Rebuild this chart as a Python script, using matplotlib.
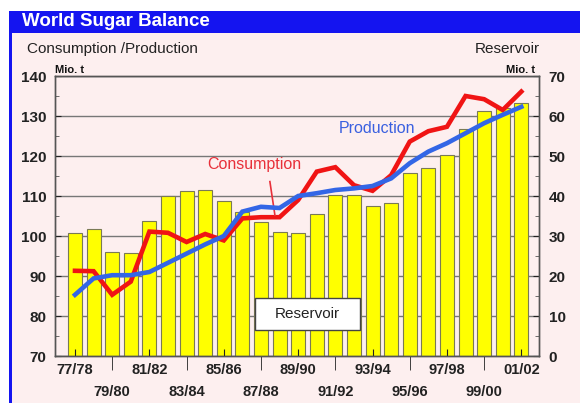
import matplotlib
matplotlib.use('Agg')
import matplotlib.pyplot as plt
from matplotlib.patches import Rectangle
import numpy as np

plt.rcParams['font.family'] = ['Liberation Sans', 'DejaVu Sans']

seasons = ['77/78', '78/79', '79/80', '80/81', '81/82', '82/83', '83/84', '84/85',
           '85/86', '86/87', '87/88', '88/89', '89/90', '90/91', '91/92', '92/93',
           '93/94', '94/95', '95/96', '96/97', '97/98', '98/99', '99/00', '00/01', '01/02']
consumption = [91.3, 91.2, 85.3, 88.6, 101.1, 100.8, 98.5, 100.5, 98.9, 104.4, 104.7, 104.7,
               109.0, 116.1, 117.2, 112.7, 111.3, 115.2, 123.6, 126.2, 127.3, 135.0, 134.2,
               131.5, 136.1]
production = [85.3, 89.4, 90.2, 90.2, 91.0, 93.3, 95.6, 97.9, 100.0, 106.1, 107.3, 107.0,
              110.0, 110.7, 111.5, 111.9, 112.5, 114.4, 118.2, 121.1, 123.2, 125.7, 128.2,
              130.3, 132.3]
reservoir = [30.8, 31.8, 25.9, 25.7, 33.8, 40.1, 41.2, 41.5, 38.7, 35.9, 33.4, 31.1, 30.8,
             35.4, 40.2, 40.2, 37.5, 38.3, 45.7, 46.9, 50.2, 56.7, 61.2, 61.9, 63.3]
left_ticks = [70, 80, 90, 100, 110, 120, 130, 140]
right_ticks = [0, 10, 20, 30, 40, 50, 60, 70]

PINK = '#fdefef'
BLUE = '#1414f0'
W, H = 580, 403

fig = plt.figure(figsize=(5.8, 4.03), dpi=100, facecolor='white')
fig.patches.append(Rectangle((12 / W, 0), 1 - 12 / W, 1 - 33 / H, transform=fig.transFigure,
                             facecolor=PINK, edgecolor='none', zorder=-10))
fig.patches.append(Rectangle((9 / W, 1 - 33 / H), 1 - 9 / W, 22 / H, transform=fig.transFigure,
                             facecolor=BLUE, edgecolor='none', zorder=-5))
fig.patches.append(Rectangle((9 / W, 0), 3 / W, 1 - 11 / H, transform=fig.transFigure,
                             facecolor=BLUE, edgecolor='none', zorder=-5))

fig.text(22 / W, 1 - 22 / H, 'World Sugar Balance', color='white', fontsize=13.5,
         fontweight='bold', va='center', ha='left')
fig.text(27 / W, 1 - 49 / H, 'Consumption /Production', color='#222222', fontsize=11,
         va='center', ha='left')
fig.text(540 / W, 1 - 49 / H, 'Reservoir', color='#222222', fontsize=11,
         va='center', ha='right')
fig.text(55 / W, 1 - 70 / H, 'Mio. t', color='#111111', fontsize=8, fontweight='bold',
         va='center', ha='left')
fig.text(535 / W, 1 - 70 / H, 'Mio. t', color='#111111', fontsize=8, fontweight='bold',
         va='center', ha='right')

ax = fig.add_axes([55 / W, 1 - 356 / H, 484 / W, 280 / H])
ax2 = ax.twinx()
ax.set_zorder(ax2.get_zorder() + 1)
ax.patch.set_visible(False)

x = np.arange(len(seasons))

# bars (reservoir) on right axis
ax2.bar(x, reservoir, width=0.75, color='#ffff00', edgecolor='#7a7a55', linewidth=0.8, zorder=2)
ax2.set_ylim(0, 70)
ax2.set_yticks(right_ticks)
ax2.set_yticks(np.arange(5, 70, 10), minor=True)
ax2.set_yticklabels([str(v) for v in right_ticks], fontsize=11, fontweight='bold')
ax2.yaxis.grid(True, color='#777777', linewidth=1)
ax2.set_axisbelow(True)
ax2.tick_params(axis='y', which='major', direction='in', length=4, pad=7, colors='#222222')
ax2.tick_params(axis='y', which='minor', direction='in', length=3, color='#555555')

# lines on left axis
ax.plot(x, consumption, color='#f01414', linewidth=3.3, solid_joinstyle='miter', zorder=3)
ax.plot(x, production, color='#3366e6', linewidth=3.3, solid_joinstyle='miter', zorder=4)
ax.set_ylim(70, 140)
ax.set_xlim(-1.075, 24.95)
ax.set_yticks(left_ticks)
ax.set_yticks(np.arange(75, 140, 10), minor=True)
ax.set_yticklabels([str(v) for v in left_ticks], fontsize=11, fontweight='bold')
ax.tick_params(axis='y', which='major', direction='in', length=4, pad=6, colors='#222222')
ax.tick_params(axis='y', which='minor', direction='in', length=3, color='#555555')

row1 = x[0::4]
row2 = x[2::4]
ax.set_xticks(row1)
ax.set_xticklabels([seasons[i] for i in row1], fontsize=10.5, fontweight='bold')
ax.set_xticks(row2, minor=True)
ax.set_xticklabels([seasons[i] for i in row2], minor=True, fontsize=10.5, fontweight='bold')
ax.tick_params(axis='x', which='major', direction='in', length=5, pad=5, colors='#222222')
ax.tick_params(axis='x', which='minor', direction='out', length=10, pad=11, colors='#222222')

for a in (ax, ax2):
    for s in a.spines.values():
        s.set_color('#555555')
        s.set_linewidth(1)

# annotations
ax.text(9.65, 117.8, 'Consumption', color='#e8303a', fontsize=11.5, ha='center', va='center')
ax.plot([10.48, 10.75], [113.6, 105.2], color='#e8303a', linewidth=1.2, zorder=3)
ax.text(16.25, 126.8, 'Production', color='#3a60e0', fontsize=11.5, ha='center', va='center')
ax.add_patch(Rectangle((9.68, 76.5), 5.64, 8.0, facecolor='white', edgecolor='#444444',
                       linewidth=1, zorder=5))
ax.text(12.5, 80.5, 'Reservoir', color='#222222', fontsize=11, ha='center', va='center', zorder=6)

fig.savefig('out.png', dpi=100, facecolor='white')
